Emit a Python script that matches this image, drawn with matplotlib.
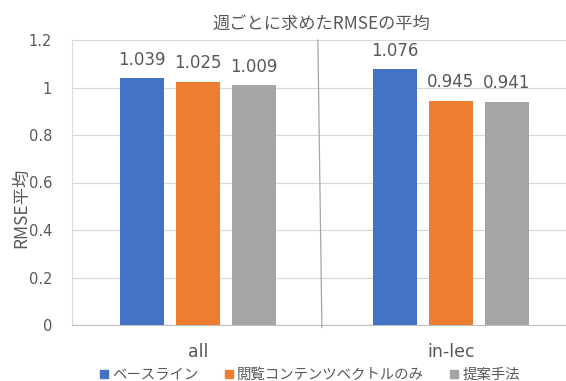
import numpy as np
import matplotlib
matplotlib.use('Agg')
from matplotlib import pyplot as plt
from matplotlib.lines import Line2D

plt.rcParams['font.family'] = ['DejaVu Sans', 'Noto Sans CJK JP']

categories = ['all', 'in-lec']
series_names = ['ベースライン', '閲覧コンテンツベクトルのみ', '提案手法']
baseline = [1.039, 1.076]
content_only = [1.025, 0.945]
proposed = [1.009, 0.941]
yticks = [0, 0.2, 0.4, 0.6, 0.8, 1, 1.2]
ytick_labels = ['0', '0.2', '0.4', '0.6', '0.8', '1', '1.2']

colors = ['#4472C4', '#ED7D31', '#A5A5A5']
txt = '#595959'
jp = ['Noto Sans CJK JP', 'DejaVu Sans']

fig = plt.figure(figsize=(5.66, 3.81), dpi=100)
ax = fig.add_axes([71.5/566, 56/381, 1 - 71.5/566, (325-40)/381])

x = np.arange(len(categories))
width = 0.174
step = 0.221
all_vals = [baseline, content_only, proposed]
for i, vals in enumerate(all_vals):
    bars = ax.bar(x + (i-1)*step, vals, width, color=colors[i], label=series_names[i], zorder=3)
    for b, v in zip(bars, vals):
        ax.text(b.get_x() + b.get_width()/2, v + 0.077, '%.3f' % v, ha='center', va='center',
                fontsize=12, color=txt)

ax.set_xlim(-0.5, 1.455)
ax.set_ylim(0, 1.2)
ax.set_yticks(yticks)
ax.set_yticklabels(ytick_labels)
ax.set_xticks(x)
ax.set_xticklabels(categories, fontsize=12.5, color=txt)
ax.tick_params(axis='y', length=0, pad=14, labelsize=10.5, labelcolor=txt)
ax.tick_params(axis='x', length=0, pad=13)
ax.grid(axis='y', color='#D9D9D9', linewidth=0.9, zorder=0)
for s in ['top', 'right']:
    ax.spines[s].set_visible(False)
ax.spines['left'].set_color('#D9D9D9')
ax.spines['bottom'].set_color('#BFBFBF')

ax.set_ylabel('RMSE平均', fontsize=12.5, color=txt, family=jp, va='center')
ax.yaxis.set_label_coords(-0.102, 0.41)

# thin separator line drawn across the plot
ax.add_line(Line2D([0.474, 0.49], [1.2, -0.01], color='#A6A6A6', linewidth=0.9, clip_on=False, zorder=4))

fig.text(321/566, 1 - 24/381, '週ごとに求めたRMSEの平均', ha='center', va='center', fontsize=12.4,
         color=txt, family=jp)

handles = [plt.Rectangle((0, 0), 1, 1, color=c) for c in colors]
fig.legend(handles, series_names, loc='center', bbox_to_anchor=(310/566, 1 - 375/381), ncol=3, frameon=False,
           prop={'family': jp, 'size': 10.4}, labelcolor=txt, handlelength=0.55, handleheight=0.55,
           handletextpad=0.3, columnspacing=1.8)

fig.savefig('out.png', dpi=100)
